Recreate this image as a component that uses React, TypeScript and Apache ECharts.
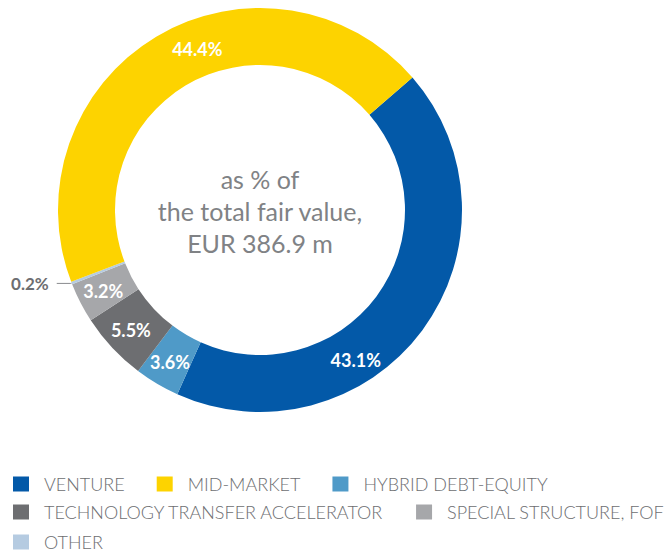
import React, { useEffect, useRef } from 'react';
import * as echarts from 'echarts';

// Slices in clockwise drawing order
const categories = [
  'VENTURE',
  'HYBRID DEBT-EQUITY',
  'TECHNOLOGY TRANSFER ACCELERATOR',
  'SPECIAL STRUCTURE, FOF',
  'OTHER',
  'MID-MARKET',
];
const values = [43.1, 3.6, 5.5, 3.2, 0.2, 44.4];
const colors = ['#0359a8', '#4f9ac8', '#6d6e71', '#a6a7aa', '#b5cbe1', '#fdd300'];

const legendRows = [
  ['VENTURE', 'MID-MARKET', 'HYBRID DEBT-EQUITY'],
  ['TECHNOLOGY TRANSFER ACCELERATOR', 'SPECIAL STRUCTURE, FOF'],
  ['OTHER'],
];
const centerLines = ['as % of', 'the total fair value,', 'EUR 386.9 m'];

export default function App() {
  const ref = useRef<HTMLDivElement>(null);
  useEffect(() => {
    document.body.style.margin = '0';
    const chart = echarts.init(ref.current as HTMLDivElement, null, { renderer: 'svg' });
    const labelShift: Record<string, number[]> = {
      'VENTURE': [-46, 45],
      'MID-MARKET': [28, -10],
    };
    const legendTops = [475, 503, 533];
    chart.setOption({
      animation: false,
      legend: legendRows.map((row, i) => ({
        data: row,
        left: 13,
        top: legendTops[i],
        padding: 0,
        orient: 'horizontal',
        icon: 'rect',
        itemWidth: 16,
        itemHeight: 15,
        itemGap: 32,
        selectedMode: false,
        textStyle: {
          color: '#6d6e71',
          fontFamily: 'Lato',
          fontWeight: 300,
          fontSize: 18,
          padding: [0, 0, 0, 10],
        },
      })),
      graphic: [
        {
          type: 'text',
          x: 260,
          y: 211,
          style: {
            text: centerLines.join('\n'),
            fill: '#808285',
            font: '25px Lato',
            lineHeight: 32,
            align: 'center',
            verticalAlign: 'middle',
          },
        },
      ],
      series: [
        {
          type: 'pie',
          center: [260, 210],
          radius: [145, 202],
          startAngle: 41,
          clockwise: true,
          avoidLabelOverlap: false,
          emphasis: { disabled: true },
          label: {
            show: true,
            position: 'inside',
            formatter: '{c}%',
            color: '#ffffff',
            fontFamily: 'Lato',
            fontWeight: 'bold',
            fontSize: 18,
          },
          labelLine: { show: false },
          labelLayout: (params: any) => {
            const name = categories[params.dataIndex];
            const s = labelShift[name];
            if (s) return { dx: s[0], dy: s[1] };
            return {};
          },
          data: categories.map((name, i) => {
            const item: any = { name, value: values[i], itemStyle: { color: colors[i] } };
            if (name === 'OTHER') {
              item.label = { position: 'outside', color: '#6d6e71', fontSize: 17, distanceToLabelLine: 8 };
              item.labelLine = {
                show: true,
                length: 1,
                length2: 14,
                lineStyle: { color: '#8a8b8e', width: 1 },
              };
            }
            return item;
          }),
        },
      ],
    });
    return () => chart.dispose();
  }, []);
  return <div ref={ref} style={{ width: 672, height: 555 }} />;
}
